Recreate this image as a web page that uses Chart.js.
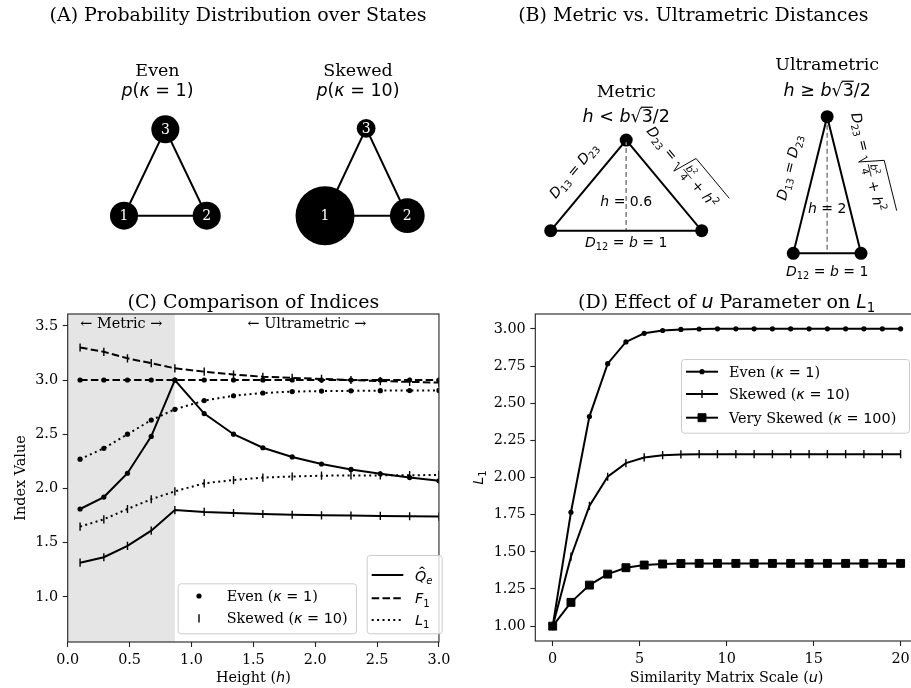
<!DOCTYPE html>
<html>
<head>
<meta charset="utf-8">
<title>Index comparison</title>
<script src="https://cdn.jsdelivr.net/npm/chart.js@4.4.1/dist/chart.umd.min.js"></script>
<style>
  html, body { margin: 0; padding: 0; background: #fff; }
  body { width: 911px; height: 688px; position: relative; overflow: hidden; }
  canvas { position: absolute; }
</style>
</head>
<body>
<canvas id="even" width="455" height="285" style="left:0;top:0"></canvas>
<canvas id="skewed" width="455" height="285" style="left:0;top:0"></canvas>
<canvas id="metric" width="456" height="285" style="left:455px;top:0"></canvas>
<canvas id="ultra" width="456" height="285" style="left:455px;top:0"></canvas>
<canvas id="indices" width="455" height="403" style="left:0;top:285px"></canvas>
<canvas id="uparam" width="470" height="403" style="left:455px;top:285px"></canvas>
<script>
// --- (A) state probabilities on a 3-state triangle ---
const stateLabels = ['1', '2', '3'];
const statePos = [[0, 0], [1, 0], [0.5, 1]];
const probEven = [0.333, 0.333, 0.333];
const probSkewed = [0.69, 0.24, 0.07];

// --- (B) triangle geometry ---
const baseB = 1;
const hMetric = 0.6;
const hUltra = 2;

// --- (C) indices vs height ---
const heightVals = [0.1, 0.292, 0.483, 0.675, 0.866, 1.103, 1.340, 1.577, 1.814, 2.051, 2.289, 2.526, 2.763, 3.0];
const evenQ = [1.81, 1.92, 2.14, 2.48, 3.00, 2.69, 2.50, 2.375, 2.29, 2.225, 2.175, 2.135, 2.10, 2.07];
const evenF = [3.0, 3.0, 3.0, 3.0, 3.0, 3.0, 3.0, 3.0, 3.0, 3.0, 3.0, 3.0, 3.0, 3.0];
const evenL = [2.27, 2.37, 2.50, 2.63, 2.73, 2.81, 2.855, 2.88, 2.893, 2.898, 2.90, 2.902, 2.903, 2.904];
const skewQ = [1.315, 1.365, 1.47, 1.61, 1.80, 1.783, 1.773, 1.764, 1.757, 1.752, 1.749, 1.746, 1.743, 1.74];
const skewF = [3.30, 3.26, 3.20, 3.155, 3.108, 3.077, 3.05, 3.03, 3.02, 3.01, 3.00, 2.99, 2.983, 2.976];
const skewL = [1.647, 1.715, 1.81, 1.90, 1.973, 2.047, 2.077, 2.10, 2.11, 2.117, 2.12, 2.12, 2.122, 2.123];
const metricBoundary = 0.866;
const heightTicks = [0, 0.5, 1, 1.5, 2, 2.5, 3];
const indexTicks = [1.0, 1.5, 2.0, 2.5, 3.0, 3.5];

// --- (D) L1 vs similarity scale u ---
const scaleU = [0, 1.05, 2.11, 3.16, 4.21, 5.26, 6.32, 7.37, 8.42, 9.47, 10.53, 11.58, 12.63, 13.68, 14.74, 15.79, 16.84, 17.89, 18.95, 20];
const evenL1 = [1.00, 1.766, 2.41, 2.766, 2.912, 2.97, 2.989, 2.996, 2.999, 3.0, 3.0, 3.0, 3.0, 3.0, 3.0, 3.0, 3.0, 3.0, 3.0, 3.0];
const skewL1 = [1.00, 1.467, 1.809, 2.005, 2.097, 2.135, 2.15, 2.155, 2.157, 2.157, 2.157, 2.157, 2.157, 2.157, 2.157, 2.157, 2.157, 2.157, 2.157, 2.157];
const vskewL1 = [1.00, 1.16, 1.276, 1.35, 1.393, 1.411, 1.418, 1.421, 1.422, 1.422, 1.422, 1.422, 1.422, 1.422, 1.422, 1.422, 1.422, 1.422, 1.422, 1.422];
const uTicks = [0, 5, 10, 15, 20];
const l1Ticks = [1.0, 1.25, 1.5, 1.75, 2.0, 2.25, 2.5, 2.75, 3.0];

const SERIF = '"DejaVu Serif", serif';
const SANS = '"DejaVu Sans", sans-serif';
const TICK = 14.4, TITLE = 19, SUBTITLE = 17.5, MATH = 14;

Chart.defaults.font.family = SERIF;
Chart.defaults.color = '#000';

// text runs: serif words, upright/italic math, sub/superscripts
const S = t => ({ t, serif: true });
const M = t => ({ t });
const I = t => ({ t, it: true });
const SUB = t => ({ t, sub: true });
const SUP = t => ({ t, sup: true });

function runFont(r, s) {
  const size = (r.sub || r.sup) ? s * 0.7 : s;
  return (r.it ? 'italic ' : '') + size.toFixed(2) + 'px ' + (r.serif ? SERIF : SANS);
}
function runsWidth(ctx, runs, s) {
  let w = 0;
  for (const r of runs) { ctx.font = runFont(r, s); w += ctx.measureText(r.t).width; }
  return w;
}
function drawRuns(ctx, runs, x, y, s) {
  ctx.textAlign = 'left';
  ctx.textBaseline = 'alphabetic';
  for (const r of runs) {
    ctx.font = runFont(r, s);
    const w = ctx.measureText(r.t).width;
    const dy = r.sub ? s * 0.22 : r.sup ? -s * 0.42 : 0;
    ctx.fillText(r.t, x, y + dy);
    if (r.over) {
      ctx.lineWidth = s * 0.07;
      ctx.beginPath(); ctx.moveTo(x - 1, y - s * 0.86); ctx.lineTo(x + w, y - s * 0.86); ctx.stroke();
    }
    if (r.hat) {
      const hx = x + w * 0.62;
      ctx.lineWidth = s * 0.07;
      ctx.beginPath();
      ctx.moveTo(hx - s * 0.17, y - s * 0.86);
      ctx.lineTo(hx, y - s * 1.0);
      ctx.lineTo(hx + s * 0.17, y - s * 0.86);
      ctx.stroke();
    }
    x += w;
  }
  return x;
}
function label(ctx, runs, x, y, s, opt = {}) {
  ctx.save();
  ctx.translate(x, y);
  if (opt.angle) ctx.rotate(opt.angle);
  ctx.fillStyle = opt.color || '#000';
  ctx.strokeStyle = opt.color || '#000';
  const w = runsWidth(ctx, runs, s);
  const x0 = opt.align === 'left' ? 0 : -w / 2;
  drawRuns(ctx, runs, x0, s * 0.36, s);
  ctx.restore();
}

// D23 = sqrt(b^2/4 + h^2), drawn along a rotated baseline
function sqrtLabel(ctx, x, y, s, angle) {
  const small = s * 0.7;
  ctx.save();
  ctx.translate(x, y);
  ctx.rotate(angle);
  ctx.fillStyle = '#000';
  ctx.strokeStyle = '#000';
  const pre = [I('D'), SUB('23'), M(' = ')];
  const num = [I('b'), SUP('2')];
  const den = [M('4')];
  const tail = [M(' + '), I('h'), SUP('2')];
  const preW = runsWidth(ctx, pre, s);
  const numW = runsWidth(ctx, num, small);
  const denW = runsWidth(ctx, den, small);
  const fracW = Math.max(numW, denW) + 2;
  const tailW = runsWidth(ctx, tail, s);
  const radW = s * 0.65;
  const total = preW + radW + fracW + tailW + s * 0.25;
  let cx = -total / 2;
  const base = s * 0.3;
  drawRuns(ctx, pre, cx, base, s);
  cx += preW;
  const top = base - s * 1.5;
  ctx.lineWidth = 0.9;
  ctx.beginPath();
  ctx.moveTo(cx, base - s * 0.3);
  ctx.lineTo(cx + radW * 0.2, base - s * 0.38);
  ctx.lineTo(cx + radW * 0.5, base + s * 0.3);
  ctx.lineTo(cx + radW, top);
  ctx.lineTo(cx + radW + fracW + tailW + s * 0.25, top);
  ctx.stroke();
  cx += radW;
  const barY = base - s * 0.32;
  drawRuns(ctx, num, cx + (fracW - numW) / 2, barY - s * 0.12, small);
  drawRuns(ctx, den, cx + (fracW - denW) / 2, barY + small * 0.82, small);
  ctx.lineWidth = 0.8;
  ctx.beginPath(); ctx.moveTo(cx, barY); ctx.lineTo(cx + fracW, barY); ctx.stroke();
  cx += fracW;
  drawRuns(ctx, tail, cx, base, s);
  ctx.restore();
}

function pts(xs, ys) { return xs.map((x, i) => ({ x, y: ys[i] })); }
function px(chart, x, y) { return { x: chart.scales.x.getPixelForValue(x), y: chart.scales.y.getPixelForValue(y) }; }

function spines(ctx, a) {
  ctx.save();
  ctx.strokeStyle = '#222';
  ctx.lineWidth = 1.1;
  ctx.strokeRect(a.left, a.top, a.right - a.left, a.bottom - a.top);
  ctx.restore();
}
function legendFrame(ctx, x0, y0, x1, y1) {
  ctx.save();
  ctx.beginPath();
  ctx.roundRect(x0 + 0.5, y0 + 0.5, x1 - x0, y1 - y0, 3);
  ctx.fillStyle = 'rgba(255,255,255,0.8)';
  ctx.fill();
  ctx.strokeStyle = '#cccccc';
  ctx.lineWidth = 1;
  ctx.stroke();
  ctx.restore();
}
function legendLine(ctx, x0, x1, y, ds) {
  ctx.save();
  ctx.strokeStyle = '#000';
  ctx.lineWidth = ds.borderWidth;
  ctx.setLineDash(ds.borderDash || []);
  ctx.beginPath(); ctx.moveTo(x0, y); ctx.lineTo(x1, y); ctx.stroke();
  ctx.restore();
}
function legendMarker(ctx, x, y, ds) {
  ctx.save();
  ctx.fillStyle = '#000';
  ctx.strokeStyle = '#000';
  ctx.lineWidth = ds.pointBorderWidth;
  Chart.helpers.drawPoint(ctx, {
    pointStyle: ds.pointStyle, radius: ds.pointRadius,
    rotation: ds.pointRotation || 0, borderWidth: ds.pointBorderWidth
  }, x, y);
  ctx.restore();
}

const noInteract = { responsive: false, animation: false, events: [], devicePixelRatio: 1 };
const quiet = { legend: { display: false }, tooltip: { enabled: false } };

// hidden-axis chart whose plot box sits at box = [left, top, right, bottom]
function diagramChart(id, box, xr, yr, datasets, draw) {
  const cv = document.getElementById(id);
  return new Chart(cv, {
    type: 'scatter',
    data: { datasets },
    options: Object.assign({}, noInteract, {
      layout: { autoPadding: false, padding: { left: box[0], top: box[1], right: cv.width - box[2], bottom: cv.height - box[3] } },
      scales: {
        x: { type: 'linear', display: false, min: xr[0], max: xr[1] },
        y: { type: 'linear', display: false, min: yr[0], max: yr[1] }
      },
      plugins: quiet
    }),
    plugins: [{ id: 'decor', afterDraw: draw }]
  });
}

function stateDatasets(probs, scale) {
  const ring = [0, 1, 2, 0].map(i => ({ x: statePos[i][0], y: statePos[i][1] }));
  return [
    { data: ring, showLine: true, borderColor: '#000', borderWidth: 2, pointRadius: 0, clip: false },
    { data: statePos.map(p => ({ x: p[0], y: p[1] })), pointRadius: probs.map(p => scale * Math.sqrt(p)),
      pointBackgroundColor: '#000', pointBorderWidth: 0, clip: false }
  ];
}
function nodeNumbers(chart) {
  const ctx = chart.ctx;
  chart.getDatasetMeta(1).data.forEach((el, i) => {
    label(ctx, [S(stateLabels[i])], el.x, el.y - 0.5, 14, { color: '#fff' });
  });
}

// (A) Even
diagramChart('even', [82.65, 103.4, 248.05, 258.9], [-0.5, 1.5], [-0.5, 1.3], stateDatasets(probEven, 24.3), chart => {
  const ctx = chart.ctx;
  nodeNumbers(chart);
  label(ctx, [S('(A) Probability Distribution over States')], 238, 14, TITLE);
  label(ctx, [S('Even')], 157.5, 70, SUBTITLE);
  label(ctx, [I('p'), M('('), I('κ'), M(' = 1)')], 157.5, 90, SUBTITLE);
});
// (A) Skewed
diagramChart('skewed', [283.85, 102.1, 448.45, 259.4], [-0.5, 1.5], [-0.5, 1.3], stateDatasets(probSkewed, 35.5), chart => {
  const ctx = chart.ctx;
  nodeNumbers(chart);
  label(ctx, [S('Skewed')], 358, 70, SUBTITLE);
  label(ctx, [I('p'), M('('), I('κ'), M(' = 10)')], 358, 90, SUBTITLE);
});

function triangleDatasets(h) {
  const v = [{ x: 0, y: 0 }, { x: baseB, y: 0 }, { x: baseB / 2, y: h }];
  return [
    { data: [v[0], v[1], v[2], v[0]], showLine: true, borderColor: '#000', borderWidth: 2, pointRadius: 0, clip: false },
    { data: [{ x: baseB / 2, y: h }, { x: baseB / 2, y: 0 }], showLine: true, borderColor: '#808080',
      borderWidth: 1.5, borderDash: [5, 3], pointRadius: 0, clip: false },
    { data: v, pointRadius: 6.5, pointBackgroundColor: '#000', pointBorderWidth: 0, clip: false }
  ];
}
function triangleText(chart, h, baseGap, leftAt, rightAt) {
  const ctx = chart.ctx;
  const p0 = px(chart, 0, 0), p1 = px(chart, baseB, 0), p2 = px(chart, baseB / 2, h);
  const c = px(chart, baseB / 2, h / 3);
  label(ctx, [I('h'), M(' = ' + h)], c.x, c.y, MATH);
  label(ctx, [I('D'), SUB('12'), M(' = '), I('b'), M(' = ' + baseB)], (p0.x + p1.x) / 2, p0.y + baseGap, MATH);
  const l = px(chart, leftAt[0], leftAt[1]);
  label(ctx, [I('D'), SUB('13'), M(' = '), I('D'), SUB('23')], l.x, l.y, MATH, { angle: Math.atan2(p2.y - p0.y, p2.x - p0.x) });
  const r = px(chart, rightAt[0], rightAt[1]);
  sqrtLabel(ctx, r.x, r.y, MATH, Math.atan2(p1.y - p2.y, p1.x - p2.x));
}

// (B) Metric
diagramChart('metric', [65.5, 109.9, 276.9, 260.9], [-0.2, 1.2], [-0.2, 0.8], triangleDatasets(hMetric), chart => {
  const ctx = chart.ctx;
  const a = chart.chartArea;
  const cx = (a.left + a.right) / 2;
  triangleText(chart, hMetric, 11, [0.15, 0.40], [0.875, 0.41]);
  label(ctx, [S('(B) Metric vs. Ultrametric Distances')], 238.3, 14, TITLE);
  label(ctx, [S('Metric')], cx, 90.5, SUBTITLE);
  label(ctx, [I('h'), M(' < '), I('b'), M('√'), { t: '3', over: true }, M('/2')], cx, 116, SUBTITLE);
});
// (B) Ultrametric
diagramChart('ultra', [304.45, 96.2, 439.85, 273.8], [-0.5, 1.5], [-0.3, 2.3], triangleDatasets(hUltra), chart => {
  const ctx = chart.ctx;
  const a = chart.chartArea;
  const cx = (a.left + a.right) / 2;
  triangleText(chart, hUltra, 18, [-0.064, 1.26], [1.1, 1.31]);
  label(ctx, [S('Ultrametric')], cx, 63.5, SUBTITLE);
  label(ctx, [I('h'), M(' ≥ '), I('b'), M('√'), { t: '3', over: true }, M('/2')], cx, 90, SUBTITLE);
});

function axisScale(min, max, ticks, fmt, fit) {
  return {
    type: 'linear', min, max,
    afterBuildTicks: s => { s.ticks = ticks.map(v => ({ value: v })); },
    afterFit: fit,
    ticks: { callback: fmt, color: '#000', font: { family: SERIF, size: TICK }, padding: 4.6, maxRotation: 0, autoSkip: false },
    grid: { drawOnChartArea: false, drawTicks: true, tickLength: 5, tickColor: '#222', tickWidth: 1.1 },
    border: { display: false }
  };
}

// (C) Comparison of indices
const dot = { pointStyle: 'circle', pointRadius: 2.6, pointBorderWidth: 0 };
const bar = { pointStyle: 'line', pointRotation: 90, pointRadius: 4.1, pointBorderWidth: 1.4 };
const solid = { borderDash: [] };
const dashed = { borderDash: [7.5, 3.3] };
const dotted = { borderDash: [2, 3.4] };
function series(xs, ys, marker, dash) {
  return Object.assign({ data: pts(xs, ys), showLine: true, borderColor: '#000', borderWidth: 2,
    pointBackgroundColor: '#000', pointBorderColor: '#000' }, marker, dash);
}
const cSets = [
  series(heightVals, evenQ, dot, solid),
  series(heightVals, evenF, dot, dashed),
  series(heightVals, evenL, dot, dotted),
  series(heightVals, skewQ, bar, solid),
  series(heightVals, skewF, bar, dashed),
  series(heightVals, skewL, bar, dotted)
];

new Chart(document.getElementById('indices'), {
  type: 'scatter',
  data: { datasets: cSets },
  options: Object.assign({}, noInteract, {
    layout: { autoPadding: false, padding: { left: 0, top: 29, right: 6, bottom: 0 } },
    scales: {
      x: axisScale(0, 3, heightTicks, v => v.toFixed(1), s => { s.height = 46; }),
      y: axisScale(0.583, 3.609, indexTicks, v => v.toFixed(1), s => { s.width = 67.7; })
    },
    plugins: quiet
  }),
  plugins: [{
    id: 'indicesDecor',
    beforeDatasetsDraw(chart) {
      const { ctx, chartArea: a, scales: { x } } = chart;
      ctx.save();
      ctx.fillStyle = '#e5e5e5';
      ctx.fillRect(a.left, a.top, x.getPixelForValue(metricBoundary) - a.left, a.bottom - a.top);
      ctx.restore();
    },
    afterDraw(chart) {
      const { ctx, chartArea: a, scales: { x } } = chart;
      spines(ctx, a);
      const mid = (a.left + a.right) / 2;
      label(ctx, [S('← Metric →')], x.getPixelForValue(metricBoundary / 2), a.top + 9, TICK);
      label(ctx, [S('← Ultrametric →')], x.getPixelForValue((metricBoundary + 3) / 2), a.top + 9, TICK);
      label(ctx, [S('(C) Comparison of Indices')], mid, 16, TITLE);
      label(ctx, [S('Height ('), I('h'), S(')')], mid, 391.7, TICK);
      label(ctx, [S('Index Value')], 20, (a.top + a.bottom) / 2, TICK, { angle: -Math.PI / 2 });

      legendFrame(ctx, 177.7, 298.3, 356, 348.3);
      legendMarker(ctx, 199, 311, cSets[0]);
      label(ctx, [S('Even ('), I('κ'), M(' = 1'), S(')')], 226.7, 311, TICK, { align: 'left' });
      legendMarker(ctx, 199, 333.3, cSets[3]);
      label(ctx, [S('Skewed ('), I('κ'), M(' = 10'), S(')')], 226.7, 333.3, TICK, { align: 'left' });

      legendFrame(ctx, 366.7, 270, 441.7, 348.3);
      legendLine(ctx, 371.7, 403.3, 290, cSets[0]);
      label(ctx, [{ t: 'Q', it: true, hat: true }, { t: 'e', it: true, sub: true }], 415, 291, TICK, { align: 'left' });
      legendLine(ctx, 371.7, 403.3, 313.3, cSets[1]);
      label(ctx, [I('F'), SUB('1')], 415, 313.3, TICK, { align: 'left' });
      legendLine(ctx, 371.7, 403.3, 335, cSets[2]);
      label(ctx, [I('L'), SUB('1')], 415, 335, TICK, { align: 'left' });
    }
  }]
});

// (D) Effect of u on L1
const square = { pointStyle: 'rect', pointRadius: 5.6, pointBorderWidth: 1 };
const dSets = [
  series(scaleU, evenL1, dot, solid),
  series(scaleU, skewL1, bar, solid),
  series(scaleU, vskewL1, square, solid)
];
const dNames = [
  [S('Even ('), I('κ'), M(' = 1'), S(')')],
  [S('Skewed ('), I('κ'), M(' = 10'), S(')')],
  [S('Very Skewed ('), I('κ'), M(' = 100'), S(')')]
];

new Chart(document.getElementById('uparam'), {
  type: 'scatter',
  data: { datasets: dSets },
  options: Object.assign({}, noInteract, {
    layout: { autoPadding: false, padding: { left: 0, top: 29, right: 7, bottom: 0 } },
    scales: {
      x: axisScale(-1, 21, uTicks, v => String(v), s => { s.height = 47; }),
      y: axisScale(0.9, 3.1, l1Ticks, v => v.toFixed(2), s => { s.width = 80.3; })
    },
    plugins: quiet
  }),
  plugins: [{
    id: 'uparamDecor',
    afterDraw(chart) {
      const { ctx, chartArea: a } = chart;
      spines(ctx, a);
      const mid = (a.left + a.right) / 2;
      label(ctx, [S('(D) Effect of '), I('u'), S(' Parameter on '), I('L'), SUB('1')], mid, 16, TITLE);
      label(ctx, [S('Similarity Matrix Scale ('), I('u'), S(')')], mid, 391.7, TICK);
      label(ctx, [I('L'), SUB('1')], 23, (a.top + a.bottom) / 2, TICK, { angle: -Math.PI / 2 });

      legendFrame(ctx, 226, 74, 454, 147.7);
      [86.7, 109, 132.7].forEach((y, i) => {
        legendLine(ctx, 231, 263, y, dSets[i]);
        legendMarker(ctx, 247, y, dSets[i]);
        label(ctx, dNames[i], 274, y, TICK, { align: 'left' });
      });
    }
  }]
});
</script>
</body>
</html>
